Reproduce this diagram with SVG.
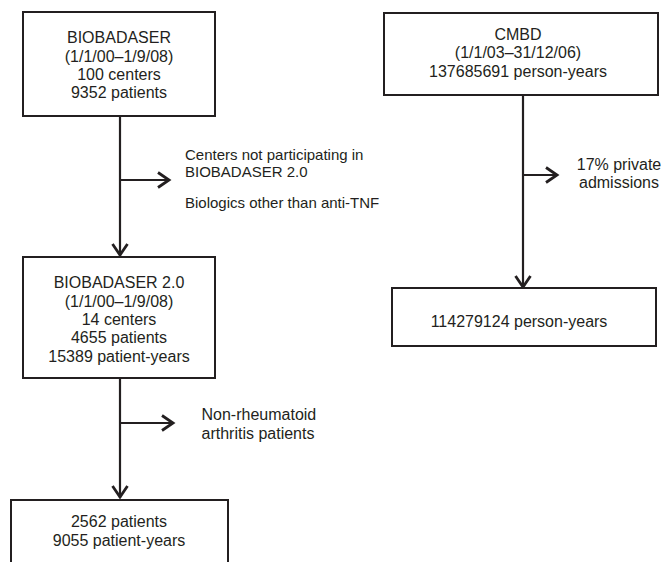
<svg xmlns="http://www.w3.org/2000/svg" width="664" height="562" viewBox="0 0 664 562">
<defs>
<style>
.box{fill:#fff;stroke:#231f20;stroke-width:2}
.t{font-family:"Liberation Sans",Arial,sans-serif;font-size:16px;fill:#231f20;text-anchor:middle}
.s{font-family:"Liberation Sans",Arial,sans-serif;font-size:15px;fill:#231f20}
.ln{fill:none;stroke:#231f20;stroke-width:2.2}
</style>
<marker id="ah" markerUnits="userSpaceOnUse" markerWidth="20" markerHeight="20" viewBox="-16 -10 20 20" refX="0" refY="0" orient="auto">
<path d="M-12,-7.5 L-1,0 L-12,7.5" fill="none" stroke="#231f20" stroke-width="2.8" stroke-linejoin="miter"/>
</marker>
</defs>
<rect width="664" height="562" fill="#fff"/>
<g id="connectors">
<line class="ln" x1="120" y1="116" x2="120" y2="256" marker-end="url(#ah)"/>
<line class="ln" x1="120" y1="180" x2="170" y2="180" marker-end="url(#ah)"/>
<line class="ln" x1="120" y1="378" x2="120" y2="498" marker-end="url(#ah)"/>
<line class="ln" x1="120" y1="423" x2="174" y2="423" marker-end="url(#ah)"/>
<line class="ln" x1="523" y1="95" x2="523" y2="288" marker-end="url(#ah)"/>
<line class="ln" x1="523" y1="175" x2="558" y2="175" marker-end="url(#ah)"/>
</g>
<g id="biobadaser">
<rect class="box" x="23" y="12" width="192" height="104"/>
<text class="t" x="119" y="43">BIOBADASER</text>
<text class="t" x="119" y="61.5">(1/1/00–1/9/08)</text>
<text class="t" x="119" y="80">100 centers</text>
<text class="t" x="119" y="98.3">9352 patients</text>
</g>
<g id="excl1">
<text class="s" x="185" y="160">Centers not participating in</text>
<text class="s" x="185" y="177">BIOBADASER 2.0</text>
<text class="s" x="185" y="208">Biologics other than anti-TNF</text>
</g>
<g id="biobadaser2">
<rect class="box" x="23" y="257" width="192" height="121"/>
<text class="t" x="119" y="288">BIOBADASER 2.0</text>
<text class="t" x="119" y="306.5">(1/1/00–1/9/08)</text>
<text class="t" x="119" y="325">14 centers</text>
<text class="t" x="119" y="343.3">4655 patients</text>
<text class="t" x="119" y="361.6">15389 patient-years</text>
</g>
<g id="excl2">
<text class="t" x="201.5" y="420" style="text-anchor:start">Non-rheumatoid</text>
<text class="t" x="201.5" y="439" style="text-anchor:start">arthritis patients</text>
</g>
<g id="final">
<rect class="box" x="11" y="500" width="217" height="80"/>
<text class="t" x="119" y="527">2562 patients</text>
<text class="t" x="119" y="545.5">9055 patient-years</text>
</g>
<g id="cmbd">
<rect class="box" x="384" y="13" width="274" height="82"/>
<text class="t" x="518" y="40">CMBD</text>
<text class="t" x="518" y="58.3">(1/1/03–31/12/06)</text>
<text class="t" x="518" y="76.6">137685691 person-years</text>
</g>
<g id="excl3">
<text class="t" x="619" y="170">17% private</text>
<text class="t" x="619" y="188.3">admissions</text>
</g>
<g id="cmbd2">
<rect class="box" x="392" y="288" width="264" height="58"/>
<text class="t" x="519" y="326.5">114279124 person-years</text>
</g>
</svg>
